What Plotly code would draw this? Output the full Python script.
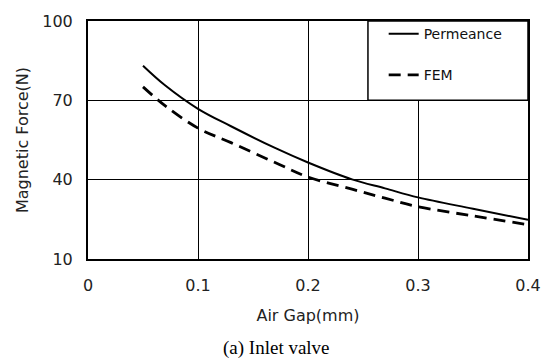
import plotly.graph_objects as go

# Data
air_gap = [0.05, 0.07, 0.10, 0.13, 0.17, 0.20, 0.24, 0.27, 0.30, 0.35, 0.40]
permeance = [83.1, 75.7, 66.8, 60.2, 52.0, 46.5, 40.1, 36.7, 33.3, 29.0, 24.8]
fem = [75.1, 68.0, 59.5, 54.0, 46.5, 41.0, 36.4, 33.0, 29.8, 26.3, 23.0]

x_ticks = [0, 0.1, 0.2, 0.3, 0.4]
x_tick_labels = ["0", "0.1", "0.2", "0.3", "0.4"]
y_ticks = [10, 40, 70, 100]

SANS = "DejaVu Sans, Liberation Sans, Arial, sans-serif"

fig = go.Figure()
fig.add_trace(go.Scatter(x=air_gap, y=permeance, mode="lines", name="Permeance",
                         line=dict(color="black", width=2, shape="spline"),
                         legendgroup="a"))
fig.add_trace(go.Scatter(x=air_gap, y=fem, mode="lines", name="FEM",
                         line=dict(color="black", width=2.8, dash="12px,7px", shape="spline"),
                         legendgroup="b"))

# legend frame
fig.add_shape(type="rect", xref="x", yref="y", x0=0.2545, x1=0.4, y0=70, y1=100,
              fillcolor="white", line=dict(color="black", width=1.5), layer="above")

fig.update_layout(
    width=553, height=362,
    margin=dict(l=88, r=22, t=12, b=103),
    paper_bgcolor="white", plot_bgcolor="white",
    font=dict(family=SANS, color="#222", size=14),
    showlegend=True,
    legend=dict(x=0.672, y=1.012, xanchor="left", yanchor="top",
                bgcolor="rgba(0,0,0,0)", borderwidth=0,
                font=dict(family=SANS, size=14, color="#111"), tracegroupgap=20,
                itemwidth=30),
    xaxis=dict(range=[0, 0.4], tickvals=x_ticks, ticktext=x_tick_labels,
               showgrid=True, gridcolor="black", gridwidth=1,
               showline=True, linecolor="black", linewidth=2, mirror=True,
               zeroline=False, ticks="", ticklabelstandoff=11,
               tickfont=dict(family=SANS, size=16, color="#222"),
               title=dict(text="Air Gap(mm)", standoff=16,
                          font=dict(family=SANS, size=16, color="#222"))),
    yaxis=dict(range=[10, 100], tickvals=y_ticks,
               showgrid=True, gridcolor="black", gridwidth=1,
               showline=True, linecolor="black", linewidth=2, mirror=True,
               zeroline=False, ticks="", ticklabelstandoff=10,
               tickfont=dict(family=SANS, size=16, color="#222"),
               title=dict(text="Magnetic Force(N)", standoff=10,
                          font=dict(family=SANS, size=16, color="#222"))),
    annotations=[dict(text="(a) Inlet valve", xref="paper", yref="paper",
                      x=(277.5 - 88) / 443, y=0, xanchor="center", yanchor="middle",
                      yshift=-89, showarrow=False,
                      font=dict(family="Liberation Serif, Times New Roman, serif",
                                size=19, color="black"))],
)

fig.write_html("out.html")
